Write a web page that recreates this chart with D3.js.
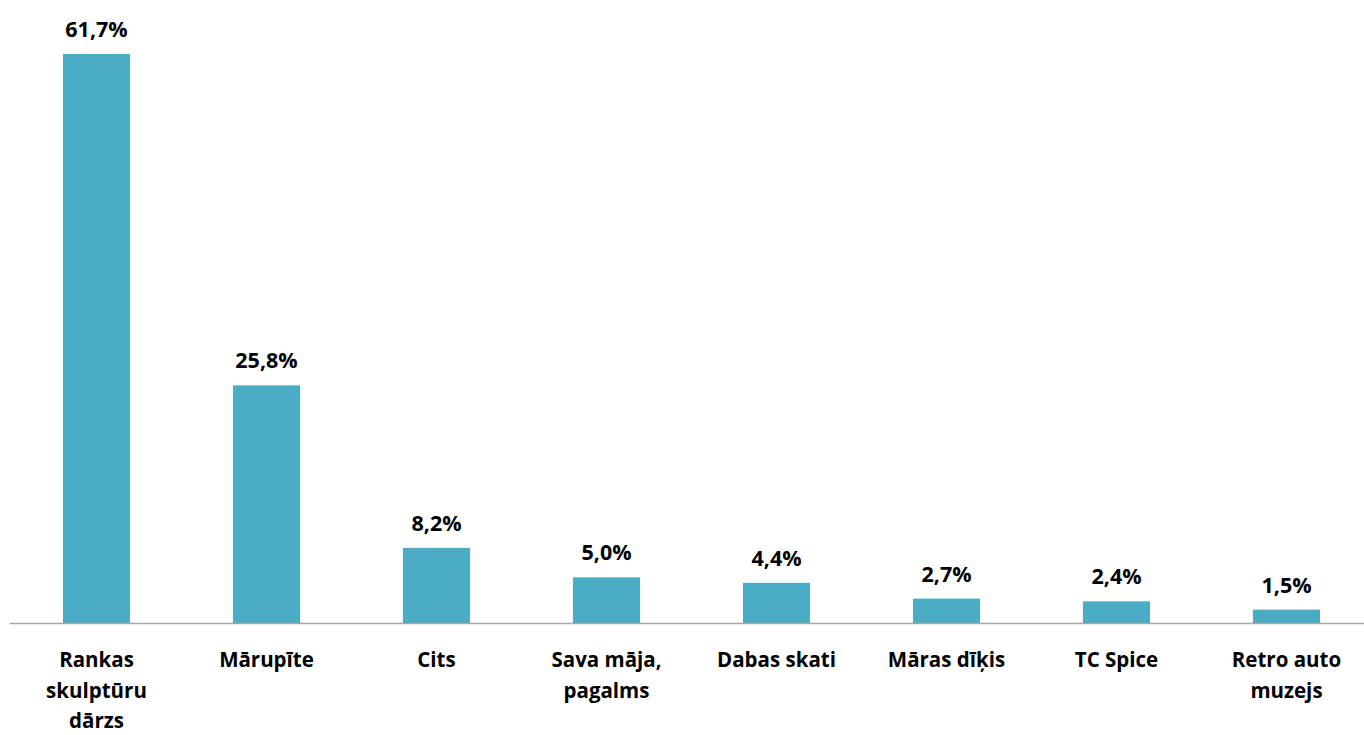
<!DOCTYPE html>
<html><head><meta charset="utf-8">
<script src="https://cdn.jsdelivr.net/npm/d3@7"></script>
<style>body{margin:0;background:#fff;}svg{display:block;}</style>
</head><body>
<script>
const categories = ["Rankas skulptūru dārzs","Mārupīte","Cits","Sava māja, pagalms","Dabas skati","Māras dīķis","TC Spice","Retro auto muzejs"];
const labelLines = [["Rankas","skulptūru","dārzs"],["Mārupīte"],["Cits"],["Sava māja,","pagalms"],["Dabas skati"],["Māras dīķis"],["TC Spice"],["Retro auto","muzejs"]];
const values = [61.7,25.8,8.2,5.0,4.4,2.7,2.4,1.5];
const valueLabels = ["61,7%","25,8%","8,2%","5,0%","4,4%","2,7%","2,4%","1,5%"];

const W=1364,H=735, base=623.5;
const svg=d3.select("body").append("svg").attr("width",W).attr("height",H);
const x=d3.scaleBand().domain(categories).range([11.5,1371.5]).paddingInner(0.605).paddingOuter(0.3025);
const y=d3.scaleLinear().domain([0,61.7]).range([base,54]);
const font="'Open Sans', sans-serif";

svg.selectAll("rect.bar").data(values).join("rect").attr("class","bar")
 .attr("x",(d,i)=>x(categories[i])).attr("width",x.bandwidth())
 .attr("y",d=>y(d)).attr("height",d=>base-y(d)).attr("fill","#4BACC6");

svg.append("line").attr("x1",10).attr("x2",W).attr("y1",base).attr("y2",base)
 .attr("stroke","#a6a6a6").attr("stroke-width",1.5);

svg.selectAll("text.val").data(values).join("text").attr("class","val")
 .attr("x",(d,i)=>x(categories[i])+x.bandwidth()/2).attr("y",d=>y(d)-17)
 .attr("text-anchor","middle").attr("font-family",font).attr("font-weight","bold")
 .attr("font-size","21.5px").attr("fill","#000").text((d,i)=>valueLabels[i]);

const cl=svg.selectAll("text.cat").data(categories).join("text").attr("class","cat")
 .attr("text-anchor","middle").attr("font-family",font).attr("font-weight","bold")
 .attr("font-size","20.5px").attr("fill","#000");
cl.each(function(d,i){
  const t=d3.select(this);
  labelLines[i].forEach((s,j)=>{
    t.append("tspan").attr("x",x(d)+x.bandwidth()/2).attr("y",667+j*30.5).text(s);
  });
});
</script>
</body></html>
